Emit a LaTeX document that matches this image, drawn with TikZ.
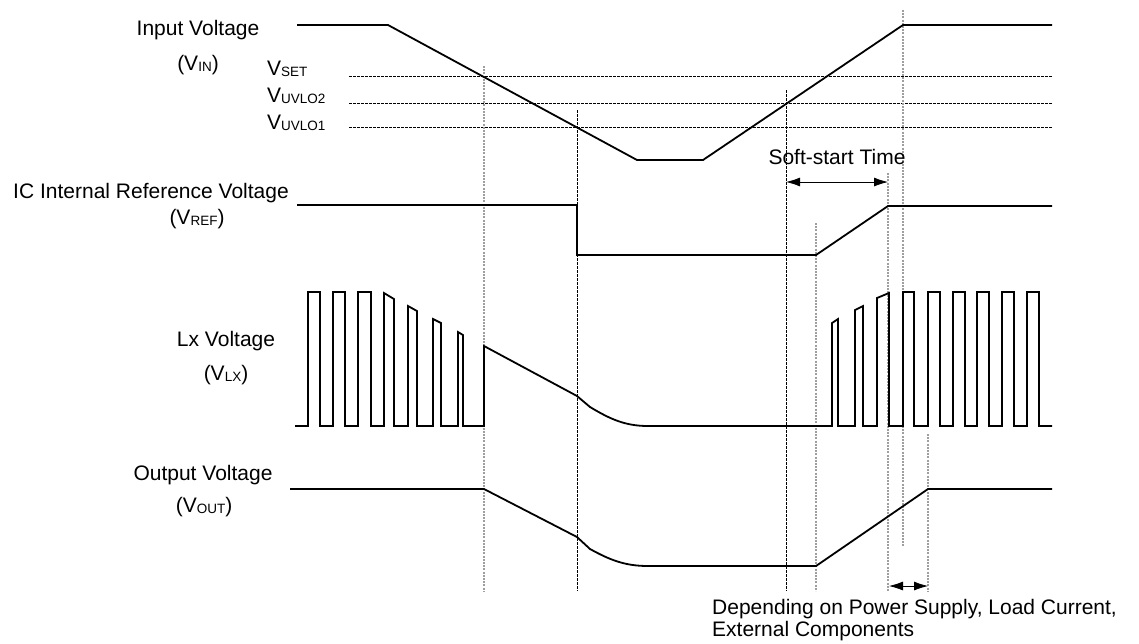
\documentclass[tikz,border=0pt]{standalone}
\usepackage{fontspec}
\setmainfont{Liberation Sans}
\usetikzlibrary{arrows.meta}
\newcommand\sbx[1]{\raisebox{-1.5pt}{\fontsize{13.5}{13.5}\selectfont #1}}
\begin{document}
\begin{tikzpicture}[x=1pt,y=-1pt,
  sig/.style={line width=1.8pt,line join=miter},
  gridk/.style={line width=0.8pt,dash pattern=on 2.5pt off 1.5pt,black},
  gridg/.style={line width=1.1pt,dash pattern=on 2pt off 1.2pt,gray!75},
  lbl/.style={font=\fontsize{21}{25}\selectfont,inner sep=0pt},
  dim/.style={line width=0.8pt,{Latex[length=14pt,width=9pt]}-{Latex[length=14pt,width=9pt]}}]
\useasboundingbox (0,0) rectangle (1139,643);
% horizontal threshold lines
\draw[gridk] (349,76) -- (1052,76);
\draw[gridk] (349,103) -- (1052,103);
\draw[gridk] (349,127) -- (1052,127);
% vertical timing lines
\draw[gridg] (484,66) -- (484,591);
\draw[gridk] (577,110) -- (577,591);
\draw[gridk] (786,90) -- (786,591);
\draw[gridg] (816,223) -- (816,591);
\draw[gridg] (888,173) -- (888,591);
\draw[gridg] (903,10) -- (903,547);
\draw[gridg] (928,434) -- (928,591);
% input voltage
\draw[sig] (297,25) -- (388,25) -- (637,160) -- (703,160) -- (903,25) -- (1052,25);
% reference voltage
\draw[sig] (297,205) -- (577,205) -- (577,255) -- (816,255) -- (888,206) -- (1052,206);
% Lx voltage
\draw[sig] (295,426) -- (308,426) -- (308,292) -- (320,292) -- (320,426) -- (333,426) -- (333,292) -- (345,292) -- (345,426) -- (358,426) -- (358,292) -- (371,292) -- (371,426) -- (384,426) -- (384,293) -- (394,299) -- (394,426) -- (408,426) -- (408,306) -- (417,311) -- (417,426) -- (433,426) -- (433,319) -- (441,323) -- (441,426) -- (458,426) -- (458,332) -- (463,335) -- (463,426) -- (484,426) -- (484,346) -- (577,396) -- (590,407) .. controls (610,419) and (625,426) .. (648,426) -- (832,426) -- (832,323) -- (838,319) -- (838,426) -- (855,426) -- (855,310) -- (863,306) -- (863,426) -- (877,426) -- (877,298) -- (889,293) -- (889,426) -- (903,426) -- (903,292) -- (914,292) -- (914,426) -- (928,426) -- (928,292) -- (940,292) -- (940,426) -- (953,426) -- (953,292) -- (965,292) -- (965,426) -- (977,426) -- (977,292) -- (989,292) -- (989,426) -- (1002,426) -- (1002,292) -- (1014,292) -- (1014,426) -- (1027,426) -- (1027,292) -- (1039,292) -- (1039,426) -- (1052,426);
% output voltage
\draw[sig] (290,489) -- (484,489) -- (577,537) -- (590,549) .. controls (610,560) and (625,566) .. (648,566) -- (816,566) -- (928,489) -- (1052,489);
% labels
\node[lbl] (lin) at (198,30) {Input Voltage};
\node[lbl] (lvin) at (198,65) {(V\sbx{IN})};
\node[lbl,anchor=base west] (lset) at (267,75) {V\sbx{SET}};
\node[lbl,anchor=base west] (lu2) at (267,102) {V\sbx{UVLO2}};
\node[lbl,anchor=base west] (lu1) at (267,129) {V\sbx{UVLO1}};
\node[lbl] (lref) at (151,193) {IC Internal Reference Voltage};
\node[lbl] (lvref) at (197,219) {(V\sbx{REF})};
\node[lbl] (llx) at (226,341) {Lx Voltage};
\node[lbl] (lvlx) at (226,375) {(V\sbx{LX})};
\node[lbl] (lout) at (203,475) {Output Voltage};
\node[lbl] (lvout) at (204,507) {(V\sbx{OUT})};
\node[lbl] (lss) at (837,157) {Soft-start Time};
\node[lbl,anchor=west] (ldep1) at (712,609) {Depending on Power Supply, Load Current,};
\node[lbl,anchor=west] (ldep2) at (712,631) {External Components};
% dimension arrows
\coordinate (ssa) at (786,182);
\coordinate (ssb) at (888,182);
\coordinate (dpa) at (889,586);
\coordinate (dpb) at (928,586);
\draw[dim] (ssa) -- (ssb);
\draw[dim] (dpa) -- (dpb);
\end{tikzpicture}
\end{document}
